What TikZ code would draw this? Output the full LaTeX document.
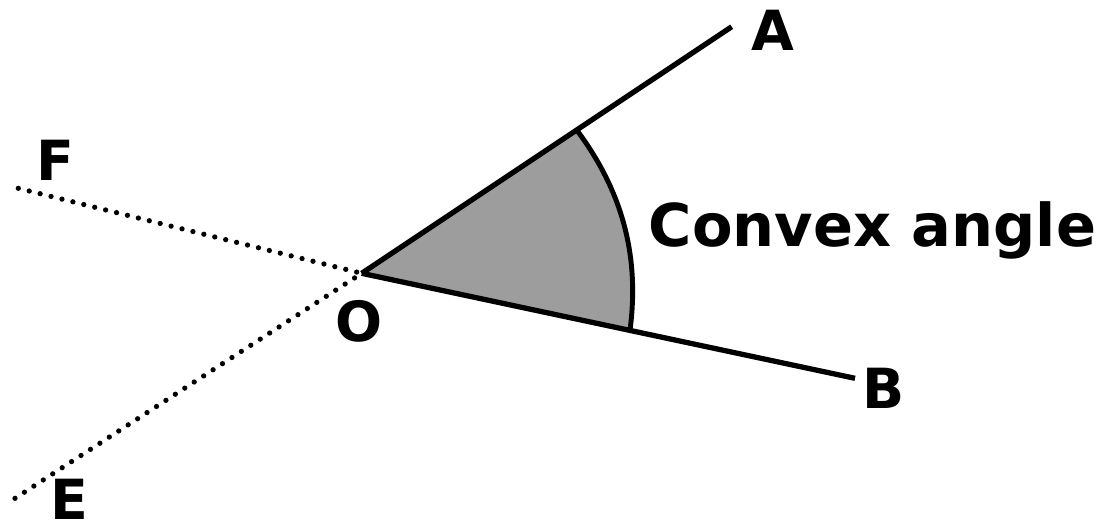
\documentclass[tikz,border=0pt]{standalone}
\usepackage{fontspec}
\setmainfont{DejaVu Sans}
\usetikzlibrary{calc}
\definecolor{Shade}{HTML}{9D9D9D}
\tikzset{
  ray/.style={line width=3pt},
  dotray/.style={line width=3pt,line cap=round,dash pattern=on 0pt off 6.4pt},
  lbl/.style={font=\bfseries\fontsize{31.5}{36}\selectfont,inner sep=0pt,anchor=base}
}

\begin{document}
\begin{tikzpicture}[x=0.02cm,y=-0.02cm]
        \useasboundingbox (0,0) rectangle (1099,529);
        \coordinate (O) at (361.7,273.3);
        \coordinate (a) at (731.7,26.7);
        \coordinate (b) at (855,378.3);
        \coordinate (f) at (18.3,188.3);
        \coordinate (e) at (15,498.3);
        \coordinate (arcA) at (576.7,130);
        \coordinate (arcB) at (630,330.4);
        % shaded sector
        \fill[Shade] (O)--(arcA) .. controls (630.7,202) and (637.8,270.6) .. (arcB)--cycle;
        \draw[dotray] (f)--(O);
        \draw[dotray] (e)--(O);
        \draw[ray] (O)--(a);
        \draw[ray] (O)--(b);
        \draw[line width=2.8pt] (arcA) .. controls (630.7,202) and (637.8,270.6) .. (arcB);
        \node[lbl] (labA) at (773,50) {A};
        \node[lbl] (labB) at (884,408) {B};
        \node[lbl] (labF) at (55,180) {F};
        \node[lbl] (labE) at (69,519) {E};
        \node[lbl] (labO) at (359,341) {O};
        \node[lbl,font=\bfseries\fontsize{33.6}{40}\selectfont] (conv) at (872.5,246.7) {Convex angle};
      \end{tikzpicture}
\end{document}
